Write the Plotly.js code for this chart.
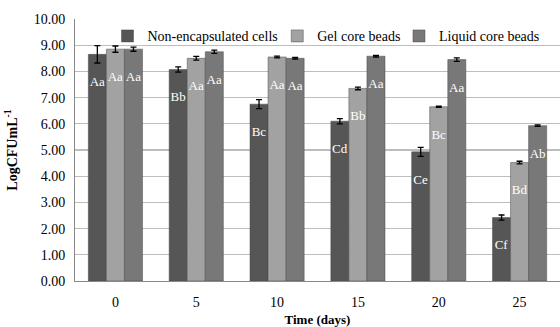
<!DOCTYPE html>
<html>
<head>
<meta charset="utf-8">
<script src="https://cdn.plot.ly/plotly-3.0.1.min.js"></script>
<style>html,body{margin:0;padding:0;background:#fff;}#chart{width:560px;height:327px;}</style>
</head>
<body>
<div id="chart"></div>
<script>
const days = ["0", "5", "10", "15", "20", "25"];
const seriesNames = ["Non-encapsulated cells", "Gel core beads", "Liquid core beads"];
const nonEncapsulated = [8.65, 8.07, 6.75, 6.10, 4.93, 2.42];
const gelCore = [8.85, 8.50, 8.55, 7.35, 6.65, 4.52];
const liquidCore = [8.85, 8.75, 8.50, 8.58, 8.45, 5.93];
const nonEncapsulatedErr = [0.33, 0.10, 0.17, 0.10, 0.17, 0.10];
const gelCoreErr = [0.12, 0.07, 0.03, 0.05, 0.02, 0.05];
const liquidCoreErr = [0.08, 0.06, 0.03, 0.03, 0.07, 0.03];
const nonEncapsulatedLetters = ["Aa", "Bb", "Bc", "Cd", "Ce", "Cf"];
const gelCoreLetters = ["Aa", "Aa", "Aa", "Bb", "Bc", "Bd"];
const liquidCoreLetters = ["Aa", "Aa", "Aa", "Aa", "Aa", "Ab"];

const colors = ["#565656", "#a2a2a2", "#787878"];
const values = [nonEncapsulated, gelCore, liquidCore];
const errs = [nonEncapsulatedErr, gelCoreErr, liquidCoreErr];
const letters = [nonEncapsulatedLetters, gelCoreLetters, liquidCoreLetters];
const legendIds = ["legend", "legend2", "legend3"];
const serif = "Times New Roman";

const traces = values.map((v, i) => ({
  type: "bar",
  name: seriesNames[i],
  legend: legendIds[i],
  x: days,
  y: v,
  text: letters[i].map(t => "&nbsp;<br>" + t),
  textposition: "inside",
  insidetextanchor: "end",
  constraintext: "none",
  textangle: 0,
  textfont: {family: serif, size: 13, color: "#ffffff"},
  marker: {color: colors[i], line: {color: "#4a4a4a", width: 0.5}},
  error_y: {type: "data", array: errs[i], visible: true, color: "#000", thickness: 1.3, width: 3},
  hoverinfo: "none"
}));

function leg(x) {
  return {orientation: "h", x: x, y: 0.995, xanchor: "left", yanchor: "top",
          bgcolor: "rgba(0,0,0,0)", font: {family: serif, size: 14}, itemwidth: 30};
}

const layout = {
  width: 560, height: 327,
  margin: {l: 75, r: 0, t: 19, b: 46},
  paper_bgcolor: "#fff", plot_bgcolor: "#fff",
  barmode: "group", bargap: 0.33, bargroupgap: 0,
  font: {family: serif, size: 13, color: "#000"},
  showlegend: true,
  legend: leg(0.067),
  legend2: leg(0.417),
  legend3: leg(0.668),
  xaxis: {type: "category", showgrid: false, showline: true, linecolor: "#888", linewidth: 1,
          ticks: "", tickfont: {family: serif, size: 14}, ticklabelstandoff: 8,
          title: {text: "<b>Time (days)</b>", font: {family: serif, size: 13}, standoff: 6}},
  yaxis: {range: [0, 10], dtick: 1, tickformat: ".2f", showgrid: true, gridcolor: "#bdbdbd", gridwidth: 1.3,
          showline: true, linecolor: "#888", linewidth: 1, ticks: "", zeroline: false,
          tickfont: {family: serif, size: 14}, ticklabelstandoff: 6,
          title: {text: "<b>LogCFUmL<sup>-1</sup></b>", font: {family: serif, size: 14}, standoff: 12}}
};

Plotly.newPlot("chart", traces, layout, {staticPlot: true, displayModeBar: false});
</script>
</body>
</html>
